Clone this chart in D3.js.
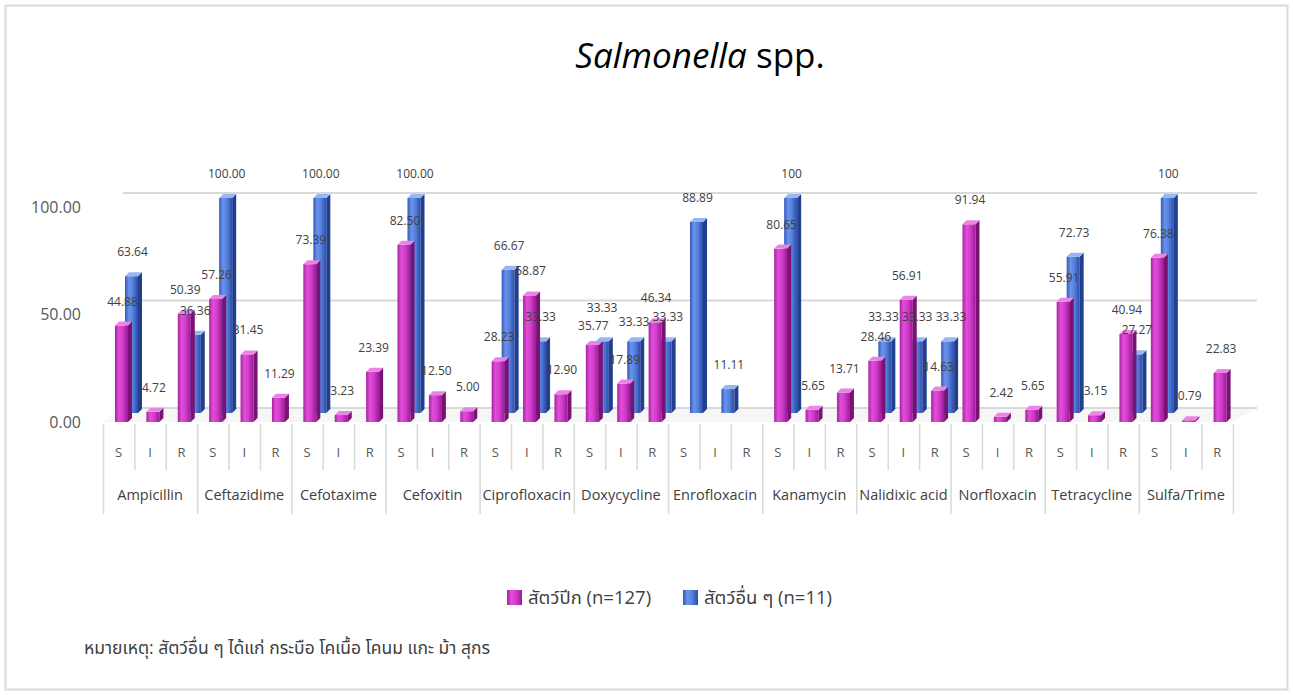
<!DOCTYPE html>
<html>
<head>
<meta charset="utf-8">
<script src="https://cdn.jsdelivr.net/npm/d3@7"></script>
<style>
  html, body { margin: 0; padding: 0; background: #fff; }
  svg { display: block; }
  text { font-family: "Open Sans", "Noto Sans Thai", "Noto Sans", sans-serif; }
</style>
</head>
<body>
<svg id="chart" width="1293" height="695"></svg>
<script>
// ---------- DATA ----------
const drugs = ["Ampicillin", "Ceftazidime", "Cefotaxime", "Cefoxitin", "Ciprofloxacin", "Doxycycline",
               "Enrofloxacin", "Kanamycin", "Nalidixic acid", "Norfloxacin", "Tetracycline", "Sulfa/Trime"];
const levels = ["S", "I", "R"];
// สัตว์ปีก (n=127), per drug: S, I, R
const birdValues = [
  44.88, 4.72, 50.39,
  57.26, 31.45, 11.29,
  73.39, 3.23, 23.39,
  82.50, 12.50, 5.00,
  28.23, 58.87, 12.90,
  35.77, 17.89, 46.34,
  null, null, null,
  80.65, 5.65, 13.71,
  28.46, 56.91, 14.63,
  91.94, 2.42, 5.65,
  55.91, 3.15, 40.94,
  76.38, 0.79, 22.83
];
// สัตว์อื่น ๆ (n=11), per drug: S, I, R
const otherValues = [
  63.64, null, 36.36,
  100, null, null,
  100, null, null,
  100, null, null,
  66.67, 33.33, null,
  33.33, 33.33, 33.33,
  88.89, 11.11, null,
  100, null, null,
  33.33, 33.33, 33.33,
  null, null, null,
  72.73, null, 27.27,
  100, null, null
];
// "other" series labels shown without decimals in the original
const plainOtherLabels = ["Kanamycin|S", "Sulfa/Trime|S"];
const yTicks = [0, 50, 100];
const seriesNames = ["สัตว์ปีก (n=127)", "สัตว์อื่น ๆ (n=11)"];
const titleItalic = "Salmonella";
const titleRest = " spp.";
const footnote = "หมายเหตุ: สัตว์อื่น ๆ ได้แก่ กระบือ โคเนื้อ โคนม แกะ ม้า สุกร";

// ---------- BUILD ----------
const cats = [];
drugs.forEach(d => levels.forEach(l => cats.push({drug: d, level: l, key: d + "|" + l})));
cats.forEach((c, i) => { c.bird = birdValues[i]; c.other = otherValues[i]; });

const svg = d3.select("#chart");
const defs = svg.append("defs");

function grad(id, stops) {
  const g = defs.append("linearGradient").attr("id", id).attr("x1", "0").attr("x2", "1").attr("y1", "0").attr("y2", "0");
  stops.forEach(s => g.append("stop").attr("offset", s[0]).attr("stop-color", s[1]));
}
grad("gMag", [["0%", "#a8229f"], ["30%", "#e04fd9"], ["60%", "#d23ccb"], ["100%", "#9a1a93"]]);
grad("gBlue", [["0%", "#3558bb"], ["30%", "#6a94ea"], ["60%", "#5580de"], ["100%", "#2b4ca6"]]);

const styles = {
  bird: {front: "url(#gMag)", side: "#7a1274", top: "#e985e4", dx: 0, dy: 0},
  other: {front: "url(#gBlue)", side: "#213f8f", top: "#98b6f2", dx: 10, dy: -9}
};

// outer border
svg.append("rect").attr("x", 5.5).attr("y", 5.5).attr("width", 1282).attr("height", 684)
  .attr("fill", "none").attr("stroke", "#d9d9d9").attr("stroke-width", 2);

const x = d3.scaleBand().domain(cats.map(c => c.key)).range([103, 1233]).padding(0);
const y = d3.scaleLinear().domain([0, 100]).range([422, 207]);
const wallDx = 20, wallDy = -14;

// floor
svg.append("polygon")
  .attr("points", [[103, y(0)], [103 + wallDx, y(0) + wallDy], [1233 + wallDx + 4, y(0) + wallDy], [1233, y(0)]].map(p => p.join(",")).join(" "))
  .attr("fill", "#f6f6f6");

// back-wall gridlines
svg.append("g").selectAll("line").data(yTicks).join("line")
  .attr("x1", 103 + wallDx).attr("x2", 1233 + wallDx + 4)
  .attr("y1", d => y(d) + wallDy).attr("y2", d => y(d) + wallDy)
  .attr("stroke", "#d9d9d9").attr("stroke-width", 2);

// y-axis labels
const yAxis = d3.axisLeft(y).tickValues(yTicks).tickFormat(d3.format(".2f")).tickSize(0).tickPadding(0);
const ya = svg.append("g").attr("transform", "translate(81,0)").call(yAxis);
ya.select(".domain").remove();
ya.selectAll("text").attr("font-size", 16).attr("fill", "#595959")
  .style("font-family", "'Open Sans', sans-serif");

// bars
const W = 13, D = 4;
function drawSeries(key) {
  const st = styles[key];
  const g = svg.append("g");
  cats.filter(c => c[key] != null && c[key] > 0).forEach(c => {
    const x0 = x(c.key) + 12 + st.dx;
    const base = y(0) + st.dy;
    const top = y(c[key]) + st.dy;
    g.append("rect").attr("x", x0).attr("y", top).attr("width", W).attr("height", Math.max(0.5, base - top)).attr("fill", st.front);
    g.append("polygon").attr("points", [[x0 + W, top], [x0 + W + D, top - D], [x0 + W + D, base - D], [x0 + W, base]].map(p => p.join(",")).join(" "))
      .attr("fill", st.side);
    g.append("polygon").attr("points", [[x0, top], [x0 + D, top - D], [x0 + W + D, top - D], [x0 + W, top]].map(p => p.join(",")).join(" "))
      .attr("fill", st.top);
  });
}
drawSeries("other");
drawSeries("bird");

// data labels
const labelG = svg.append("g");
function drawLabels(key) {
  const st = styles[key];
  labelG.append("g").selectAll("text").data(cats.filter(c => c[key] != null)).join("text")
    .attr("class", "dlabel")
    .attr("x", c => x(c.key) + 12 + st.dx + W / 2 + 1)
    .attr("y", c => y(c[key]) + st.dy - 20)
    .attr("text-anchor", "middle")
    .attr("font-size", 12).attr("fill", "#404040")
    .text(c => (key === "other" && plainOtherLabels.includes(c.key)) ? d3.format("d")(c[key]) : d3.format(".2f")(c[key]));
}
drawLabels("other");
drawLabels("bird");

// de-overlap labels: same-height neighbours spread sideways, others spread vertically
(function spread() {
  const nodes = labelG.selectAll("text.dlabel").nodes().map(n => ({
    n, x: +n.getAttribute("x"), y: +n.getAttribute("y"), w: n.getComputedTextLength()
  }));
  for (let it = 0; it < 40; it++) {
    let moved = false;
    for (let i = 0; i < nodes.length; i++) for (let j = i + 1; j < nodes.length; j++) {
      const a = nodes[i], b = nodes[j];
      const dy = b.y - a.y;
      if (Math.abs(dy) >= 13) continue;
      const need = (a.w + b.w) / 2 + 3;
      const dx = b.x - a.x;
      if (Math.abs(dx) >= need) continue;
      if (Math.abs(dy) < 2) {
        const push = (need - Math.abs(dx)) / 2 + 0.1;
        const s = dx >= 0 ? 1 : -1;
        a.x -= s * push; b.x += s * push;
      } else {
        const push = (13 - Math.abs(dy)) / 2 + 0.1;
        const s = dy >= 0 ? 1 : -1;
        a.y -= s * push; b.y += s * push;
      }
      moved = true;
    }
    if (!moved) break;
  }
  nodes.forEach(o => { o.n.setAttribute("x", o.x); o.n.setAttribute("y", o.y); });
})();

// category axis (multi-level)
const axisTop = 424;
const ax = svg.append("g");
cats.forEach((c, i) => {
  const bx = x(c.key);
  const isGroupStart = i % 3 === 0;
  ax.append("line").attr("x1", bx + 0.5).attr("x2", bx + 0.5).attr("y1", axisTop).attr("y2", isGroupStart ? 514 : 470)
    .attr("stroke", "#d9d9d9").attr("stroke-width", 1.5);
  ax.append("text").attr("x", bx + x.bandwidth() / 2).attr("y", 457).attr("text-anchor", "middle")
    .attr("font-size", 13).attr("fill", "#595959").text(c.level);
});
ax.append("line").attr("x1", 1233.5).attr("x2", 1233.5).attr("y1", axisTop).attr("y2", 514)
  .attr("stroke", "#d9d9d9").attr("stroke-width", 1.5);
drugs.forEach((d, j) => {
  const gx = x(cats[j * 3].key) + x.bandwidth() * 1.5;
  ax.append("text").attr("x", gx).attr("y", 500).attr("text-anchor", "middle")
    .attr("font-size", 14.5).attr("fill", "#404040").text(d);
});

// title
const t = svg.append("text").attr("x", 700).attr("y", 68).attr("text-anchor", "middle")
  .attr("font-size", 35).attr("fill", "#000");
t.append("tspan").attr("font-style", "italic").text(titleItalic);
t.append("tspan").text(titleRest);

// legend
const legendItems = [
  {name: seriesNames[0], fill: "url(#gMag)", x: 507},
  {name: seriesNames[1], fill: "url(#gBlue)", x: 683}
];
const lg = svg.append("g");
legendItems.forEach(it => {
  lg.append("rect").attr("x", it.x).attr("y", 590).attr("width", 15).attr("height", 15).attr("fill", it.fill);
  lg.append("text").attr("x", it.x + 21).attr("y", 604).attr("font-size", 18.5).attr("fill", "#404040").text(it.name);
});

// footnote
svg.append("text").attr("x", 84).attr("y", 654).attr("font-size", 17.5).attr("fill", "#404040").text(footnote);
</script>
</body>
</html>
